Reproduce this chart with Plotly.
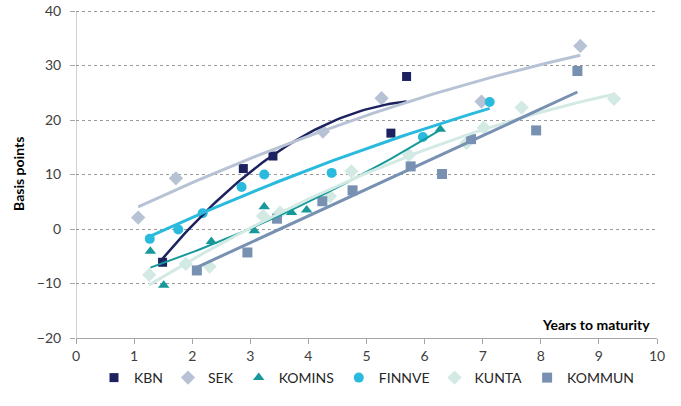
import numpy as np
import plotly.graph_objects as go

# Spread vs. years to maturity
kbn_x = [1.49, 2.88, 3.39, 5.42, 5.69]
kbn_y = [-6.1, 11.1, 13.4, 17.6, 28.0]

sek_x = [1.07, 1.72, 4.25, 5.26, 6.98, 8.68]
sek_y = [2.1, 9.3, 17.9, 24.0, 23.4, 33.6]

komins_x = [1.28, 1.51, 2.33, 3.07, 3.24, 3.71, 3.97, 6.27]
komins_y = [-4.1, -10.3, -2.3, -0.3, 4.1, 3.05, 3.5, 18.3]

finnve_x = [1.27, 1.76, 2.18, 2.85, 3.24, 4.40, 5.97, 7.12]
finnve_y = [-1.8, -0.1, 2.9, 7.7, 10.0, 10.3, 16.9, 23.3]

kunta_x = [1.26, 1.89, 2.30, 3.22, 3.51, 4.37, 4.74, 5.73, 6.72, 7.02, 7.67, 9.26]
kunta_y = [-8.4, -6.4, -6.9, 2.4, 3.0, 6.0, 10.6, 13.6, 15.8, 18.6, 22.3, 23.9]

kommun_x = [2.08, 2.95, 3.46, 4.24, 4.76, 5.76, 6.30, 6.80, 7.92, 8.63]
kommun_y = [-7.6, -4.3, 1.9, 5.1, 7.1, 11.5, 10.1, 16.5, 18.1, 29.0]

x_ticks = list(range(0, 11))
y_ticks = list(range(-20, 41, 10))

series = [
    # name, x, y, colour, symbol, size, trend degree, trend width
    ('KBN', kbn_x, kbn_y, '#1C2260', 'square', 9, 2, 2.5),
    ('SEK', sek_x, sek_y, '#B7C3D5', 'diamond', 11, 2, 3),
    ('KOMINS', komins_x, komins_y, '#17999B', 'triangle-up', 10, 2, 2),
    ('FINNVE', finnve_x, finnve_y, '#2ABADD', 'circle', 10, 2, 3),
    ('KUNTA', kunta_x, kunta_y, '#D2EAE3', 'diamond', 11, 2, 3),
    ('KOMMUN', kommun_x, kommun_y, '#7891B2', 'square', 10, 1, 3),
]

FONT = 'Lato, Carlito, Calibri, Arial, sans-serif'

fig = go.Figure()

for name, xs, ys, color, symbol, size, deg, lw in series:
    fig.add_trace(go.Scatter(
        x=xs, y=ys, mode='markers', name=name,
        marker=dict(color=color, symbol=symbol, size=size, line=dict(width=0)),
    ))

# Excel-style trendlines fitted to each series
for name, xs, ys, color, symbol, size, deg, lw in series:
    coef = np.polyfit(xs, ys, deg)
    tx = np.linspace(min(xs), max(xs), 60)
    fig.add_trace(go.Scatter(
        x=tx, y=np.polyval(coef, tx), mode='lines', showlegend=False,
        line=dict(color=color, width=lw), hoverinfo='skip',
    ))

fig.add_annotation(
    x=9.92, y=-17.6, xref='x', yref='y', xanchor='right', yanchor='middle',
    text='<b>Years to maturity</b>', showarrow=False,
    font=dict(family=FONT, size=14, color='#000000'),
)
fig.add_annotation(
    x=-0.1, y=0.5, xref='paper', yref='paper', xanchor='center', yanchor='middle',
    text='<b>Basis points</b>', textangle=-90, showarrow=False,
    font=dict(family=FONT, size=14, color='#000000'),
)

# top of range nudged past 40 so plotly keeps the 40 gridline
fig.update_layout(
    width=681, height=406,
    margin=dict(l=76, r=24, t=10, b=68, autoexpand=False),
    plot_bgcolor='white', paper_bgcolor='white',
    font=dict(family=FONT, size=14, color='#404040'),
    showlegend=True,
    legend=dict(
        orientation='h', x=0.5, xanchor='center', y=-0.122, yanchor='middle',
        font=dict(family=FONT, size=14, color='#262626'),
        itemwidth=30, tracegroupgap=0,
    ),
    xaxis=dict(
        range=[0, 10], tickvals=x_ticks, showgrid=False, zeroline=False,
        showline=True, linecolor='#A6A6A6', linewidth=1, automargin=False,
        ticks='outside', ticklen=5, tickcolor='#A6A6A6', ticklabeloverflow='allow',
        tickfont=dict(family=FONT, size=14, color='#404040'),
    ),
    yaxis=dict(
        range=[-20, 40.2], tickvals=y_ticks, showgrid=True,
        gridcolor='#9A9A9A', griddash='dot', gridwidth=1, zeroline=False,
        showline=False, automargin=False,
        ticks='outside', ticklen=5, tickcolor='#A6A6A6', ticklabelstandoff=6,
        ticklabeloverflow='allow',
        tickfont=dict(family=FONT, size=14, color='#404040'),
    ),
)
# y axis line drawn only up to the 40 tick, as in the reference
fig.add_shape(type='line', xref='x', yref='y', x0=0, x1=0,
              y0=y_ticks[0], y1=y_ticks[-1], line=dict(color='#A6A6A6', width=1))

# drop the browser's default 8px body margin so the figure fills the window
fig.write_html("out.html", config={'displayModeBar': False},
               post_script="document.body.style.margin='0';")
